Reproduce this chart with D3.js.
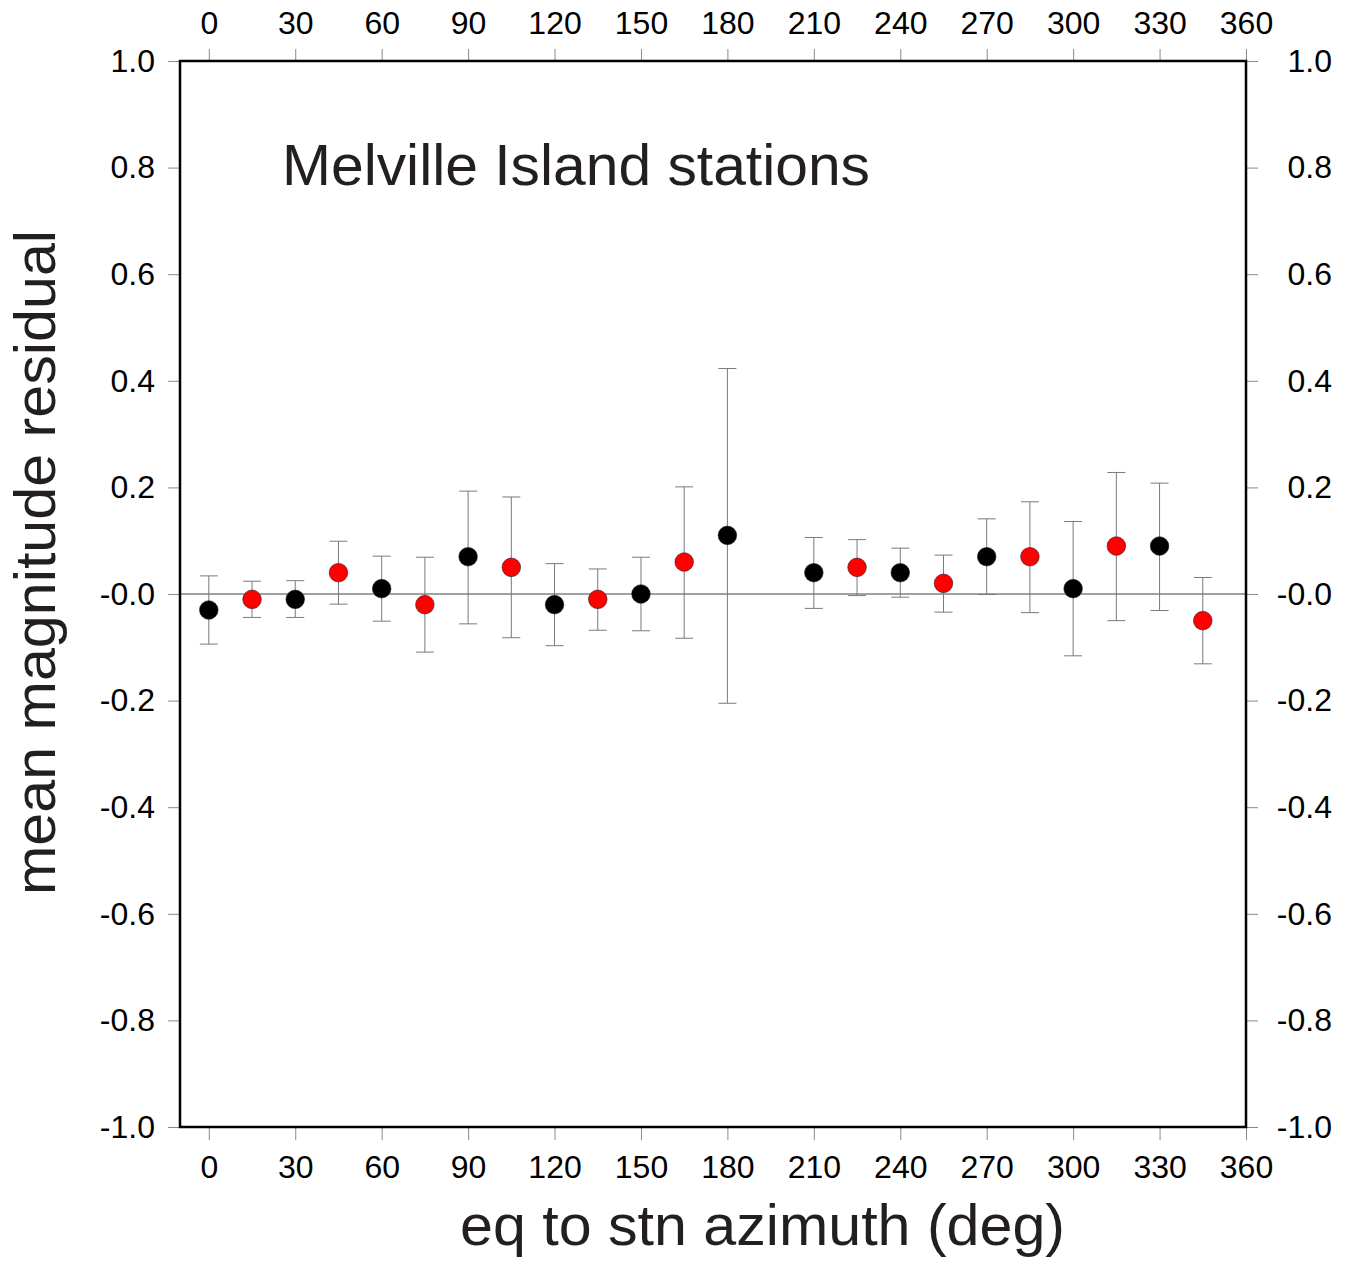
<!DOCTYPE html>
<html>
<head>
<meta charset="utf-8">
<script src="https://cdn.jsdelivr.net/npm/d3@7/dist/d3.min.js"></script>
<style>
  html, body { margin: 0; padding: 0; background: #ffffff; }
  svg { display: block; }
</style>
</head>
<body>
<svg id="chart" width="1354" height="1261"></svg>
<script>
// ---- data ----
const azimuth   = [0, 15, 30, 45, 60, 75, 90, 105, 120, 135, 150, 165, 180, 210, 225, 240, 255, 270, 285, 300, 315, 330, 345];
const residual  = [-0.03, -0.01, -0.01, 0.04, 0.01, -0.02, 0.07, 0.05, -0.02, -0.01, 0.0, 0.06, 0.11, 0.04, 0.05, 0.04, 0.02, 0.07, 0.07, 0.01, 0.09, 0.09, -0.05];
const errUpper  = [0.034, 0.024, 0.025, 0.099, 0.071, 0.069, 0.193, 0.182, 0.057, 0.047, 0.069, 0.201, 0.423, 0.106, 0.102, 0.086, 0.073, 0.141, 0.173, 0.136, 0.228, 0.208, 0.031];
const errLower  = [-0.094, -0.044, -0.044, -0.019, -0.051, -0.109, -0.056, -0.082, -0.097, -0.068, -0.069, -0.083, -0.205, -0.027, -0.003, -0.006, -0.034, -0.001, -0.035, -0.116, -0.05, -0.031, -0.131];
const pointGroup = ["black", "red", "black", "red", "black", "red", "black", "red", "black", "red", "black", "red", "black", "black", "red", "black", "red", "black", "red", "black", "red", "black", "red"];
const xTickValues = [0, 30, 60, 90, 120, 150, 180, 210, 240, 270, 300, 330, 360];
const yTickValues = [1.0, 0.8, 0.6, 0.4, 0.2, 0.0, -0.2, -0.4, -0.6, -0.8, -1.0];
const yTickLabels = ["1.0", "0.8", "0.6", "0.4", "0.2", "-0.0", "-0.2", "-0.4", "-0.6", "-0.8", "-1.0"];
const titleText = "Melville Island stations";
const xTitle = "eq to stn azimuth (deg)";
const yTitle = "mean magnitude residual";

// ---- layout ----
const L = 180, R = 1246, T = 61, B = 1127;
const fontFam = "'Liberation Sans', Arial, Helvetica, sans-serif";
const textCol = "#231f20";
const tickFont = "32px";
const svg = d3.select("#chart");

const x = d3.scaleLinear().domain([-10, 360]).range([L, R]);
const y = d3.scaleLinear().domain([-1, 1]).range([B, T]);

const groupColor = { black: "#000000", red: "#ff0000" };
const data = azimuth.map((a, i) => ({ a, v: residual[i], hi: errUpper[i], lo: errLower[i], g: pointGroup[i] }));

svg.append("rect").attr("x", 0).attr("y", 0).attr("width", 1354).attr("height", 1261).attr("fill", "#ffffff");

// axes
function styleAxis(g) {
  g.select(".domain").remove();
  g.selectAll(".tick line").attr("stroke", "#8a8a8a").attr("stroke-width", 1);
  g.selectAll(".tick text").attr("fill", "#000").style("font-family", fontFam).style("font-size", tickFont);
}
const yLabelFmt = d => yTickLabels[yTickValues.indexOf(d)];

svg.append("g").attr("transform", `translate(0,${B})`)
  .call(d3.axisBottom(x).tickValues(xTickValues).tickSize(13).tickPadding(15).tickFormat(d3.format("d")))
  .call(styleAxis);
svg.append("g").attr("transform", `translate(0,${T})`)
  .call(d3.axisTop(x).tickValues(xTickValues).tickSize(12).tickPadding(15).tickFormat(d3.format("d")))
  .call(styleAxis);
svg.append("g").attr("transform", `translate(${L},0)`)
  .call(d3.axisLeft(y).tickValues(yTickValues).tickSize(12).tickPadding(13).tickFormat(yLabelFmt))
  .call(styleAxis);
const rightAxis = svg.append("g").attr("transform", `translate(${R},0)`)
  .call(d3.axisRight(y).tickValues(yTickValues).tickSize(12).tickPadding(27).tickFormat(yLabelFmt))
  .call(styleAxis);
// right labels are right-aligned in the reference
rightAxis.selectAll(".tick text").attr("text-anchor", "end").attr("x", 1332 - R);

// zero line
svg.append("line")
  .attr("x1", L).attr("x2", R).attr("y1", y(0)).attr("y2", y(0))
  .attr("stroke", "#444").attr("stroke-width", 1);

// error bars
const eb = svg.append("g").attr("stroke", "#7a7a7a").attr("stroke-width", 1).attr("fill", "none");
eb.selectAll("line.v").data(data).join("line").attr("class", "v")
  .attr("x1", d => x(d.a)).attr("x2", d => x(d.a))
  .attr("y1", d => y(d.hi)).attr("y2", d => y(d.lo));
eb.selectAll("line.ct").data(data).join("line").attr("class", "ct")
  .attr("x1", d => x(d.a) - 9).attr("x2", d => x(d.a) + 9)
  .attr("y1", d => y(d.hi)).attr("y2", d => y(d.hi));
eb.selectAll("line.cb").data(data).join("line").attr("class", "cb")
  .attr("x1", d => x(d.a) - 9).attr("x2", d => x(d.a) + 9)
  .attr("y1", d => y(d.lo)).attr("y2", d => y(d.lo));

// points
svg.append("g").selectAll("circle").data(data).join("circle")
  .attr("cx", d => x(d.a)).attr("cy", d => y(d.v)).attr("r", 9.3)
  .attr("fill", d => groupColor[d.g])
  .attr("stroke", "#222").attr("stroke-width", 0.6);

// frame
svg.append("rect").attr("x", L).attr("y", T).attr("width", R - L).attr("height", B - T)
  .attr("fill", "none").attr("stroke", "#000").attr("stroke-width", 2.5);

// titles
svg.append("text").attr("x", 282).attr("y", 185)
  .attr("fill", textCol).style("font-family", fontFam).style("font-size", "57px")
  .attr("textLength", 588).attr("lengthAdjust", "spacingAndGlyphs")
  .text(titleText);

svg.append("text").attr("x", 460).attr("y", 1245)
  .attr("fill", textCol).style("font-family", fontFam).style("font-size", "57px")
  .attr("textLength", 605).attr("lengthAdjust", "spacingAndGlyphs")
  .text(xTitle);

svg.append("text").attr("transform", "translate(55,895) rotate(-90)")
  .attr("fill", textCol).style("font-family", fontFam).style("font-size", "58px")
  .attr("textLength", 665).attr("lengthAdjust", "spacingAndGlyphs")
  .text(yTitle);
</script>
</body>
</html>
